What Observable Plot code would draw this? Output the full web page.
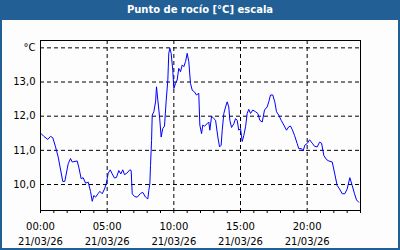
<!DOCTYPE html>
<html>
<head>
<meta charset="utf-8">
<script src="https://cdn.jsdelivr.net/npm/d3@7"></script>
<script src="https://cdn.jsdelivr.net/npm/@observablehq/plot@0.6"></script>
<style>
  html, body { margin: 0; padding: 0; background: #fcfdfc; }
  #chart { position: absolute; left: 0; top: 0; }
  #border { position: absolute; left: 0; top: 0; width: 400px; height: 250px; box-sizing: border-box; border: 2px solid #215f95; }
  #title { position: absolute; left: 0; top: 0; width: 400px; height: 20px; background: #215f95; color: #fff;
           font: bold 10px "DejaVu Sans", sans-serif; line-height: 20px; text-align: center; }
</style>
</head>
<body>
<div id="chart"></div>
<div id="border"></div>
<div id="title">Punto de rocío [°C] escala</div>
<script>
const titleText = "Punto de rocío [°C] escala";
const hours = [0.05,0.25,0.55,0.75,0.92,1.13,1.33,1.67,1.82,2.08,2.25,2.38,2.75,2.87,3.05,3.20,3.38,3.58,3.75,3.88,4.00,4.13,4.33,4.45,4.63,4.80,4.93,5.08,5.23,5.38,5.55,5.70,5.87,6.02,6.17,6.30,6.47,6.70,6.80,6.88,7.05,7.25,7.50,7.67,7.88,7.95,8.05,8.12,8.20,8.25,8.33,8.38,8.50,8.63,8.70,8.80,8.93,9.05,9.17,9.30,9.43,9.55,9.62,9.70,9.80,9.92,10.00,10.13,10.25,10.37,10.50,10.63,10.75,10.88,11.00,11.12,11.25,11.38,11.55,11.70,11.87,11.95,12.08,12.17,12.30,12.50,12.62,12.70,12.83,13.00,13.13,13.30,13.43,13.55,13.63,13.75,13.88,14.00,14.12,14.20,14.33,14.50,14.63,14.75,14.87,15.00,15.13,15.25,15.38,15.50,15.62,15.75,15.92,16.13,16.30,16.45,16.63,16.80,17.00,17.12,17.25,17.42,17.57,17.70,17.87,18.05,18.25,18.45,18.62,18.75,18.88,19.05,19.25,19.37,19.58,19.70,19.82,20.00,20.18,20.38,20.55,20.75,20.93,21.08,21.25,21.45,21.62,21.88,22.07,22.25,22.43,22.63,22.82,23.00,23.20,23.38,23.55,23.70,23.87];
const dewPoint = [11.49,11.41,11.32,11.41,11.37,11.10,10.80,10.09,10.09,10.61,10.76,10.66,10.69,10.51,10.17,10.20,10.04,10.07,9.80,9.51,9.68,9.63,9.74,9.80,9.73,9.87,10.02,10.33,10.43,10.31,10.19,10.21,10.41,10.31,10.43,10.29,10.33,10.43,10.41,9.73,9.65,9.63,9.74,9.77,9.63,9.61,9.58,9.82,10.02,10.56,11.29,12.03,12.13,12.42,12.86,12.47,11.98,11.39,11.64,11.71,12.47,13.06,13.84,13.99,13.84,13.35,12.81,12.96,13.06,13.40,13.30,13.50,13.45,13.60,13.84,13.60,12.96,12.76,12.71,12.62,12.67,11.74,11.49,11.74,11.71,11.78,11.83,11.59,12.00,11.93,11.88,11.39,11.10,11.15,11.59,12.08,12.27,12.42,12.27,11.88,11.67,11.78,11.93,11.88,11.59,11.64,11.26,11.44,11.69,12.08,12.20,12.08,12.18,12.13,12.08,11.88,11.83,12.18,12.27,12.42,12.62,12.62,12.42,12.13,12.03,11.88,11.74,11.59,11.69,11.71,11.61,11.44,11.20,11.05,11.05,10.98,11.15,11.20,11.31,11.21,11.12,11.10,11.24,11.21,10.85,10.73,10.69,10.66,10.31,9.97,9.87,9.73,9.73,9.87,10.20,9.97,9.73,9.55,9.48];
const xTicks = [5, 10, 15, 20];
const xLabelTicks = [0, 5, 10, 15, 20];
const xTickLabels = ["00:00\n21/03/26", "05:00\n21/03/26", "10:00\n21/03/26", "15:00\n21/03/26", "20:00\n21/03/26"];
const hourTicks = d3.range(0, 25);
const yTicks = [10, 11, 12, 13, 14];
const yTickLabels = ["10,0", "11,0", "12,0", "13,0", "°C"];

const data = hours.map((h, i) => ({h, v: dewPoint[i]}));

const plot = Plot.plot({
  width: 400,
  height: 250,
  marginLeft: 40,
  marginRight: 40,
  marginTop: 40,
  marginBottom: 40,
  style: {background: "transparent", fontFamily: "DejaVu Sans, sans-serif", fontSize: "10px", color: "#000"},
  x: {domain: [0, 24], axis: null, label: null},
  y: {domain: [9.24, 14.215], axis: null, label: null},
  marks: [
    Plot.gridY(yTicks, {stroke: "#000", strokeOpacity: 1, strokeDasharray: "4,3"}),
    Plot.gridX(xTicks, {stroke: "#000", strokeOpacity: 1, strokeDasharray: "4,3"}),
    Plot.line(data, {x: "h", y: "v", stroke: "#0000ff", strokeWidth: 1}),
    Plot.frame({stroke: "#000"}),
    Plot.axisX({ticks: hourTicks, tickSize: 3, tickFormat: () => "", stroke: "#000", label: null}),
    Plot.axisX({ticks: xLabelTicks, tickSize: 0, tickPadding: 9, lineHeight: 1.5, fill: "#000", label: null,
      tickFormat: d => xTickLabels[xLabelTicks.indexOf(d)]}),
    Plot.axisY({ticks: yTicks, tickSize: 0, tickPadding: 5, fill: "#000", label: null,
      tickFormat: d => yTickLabels[yTicks.indexOf(d)]})
  ]
});
document.getElementById("chart").appendChild(plot);
</script>
</body>
</html>
